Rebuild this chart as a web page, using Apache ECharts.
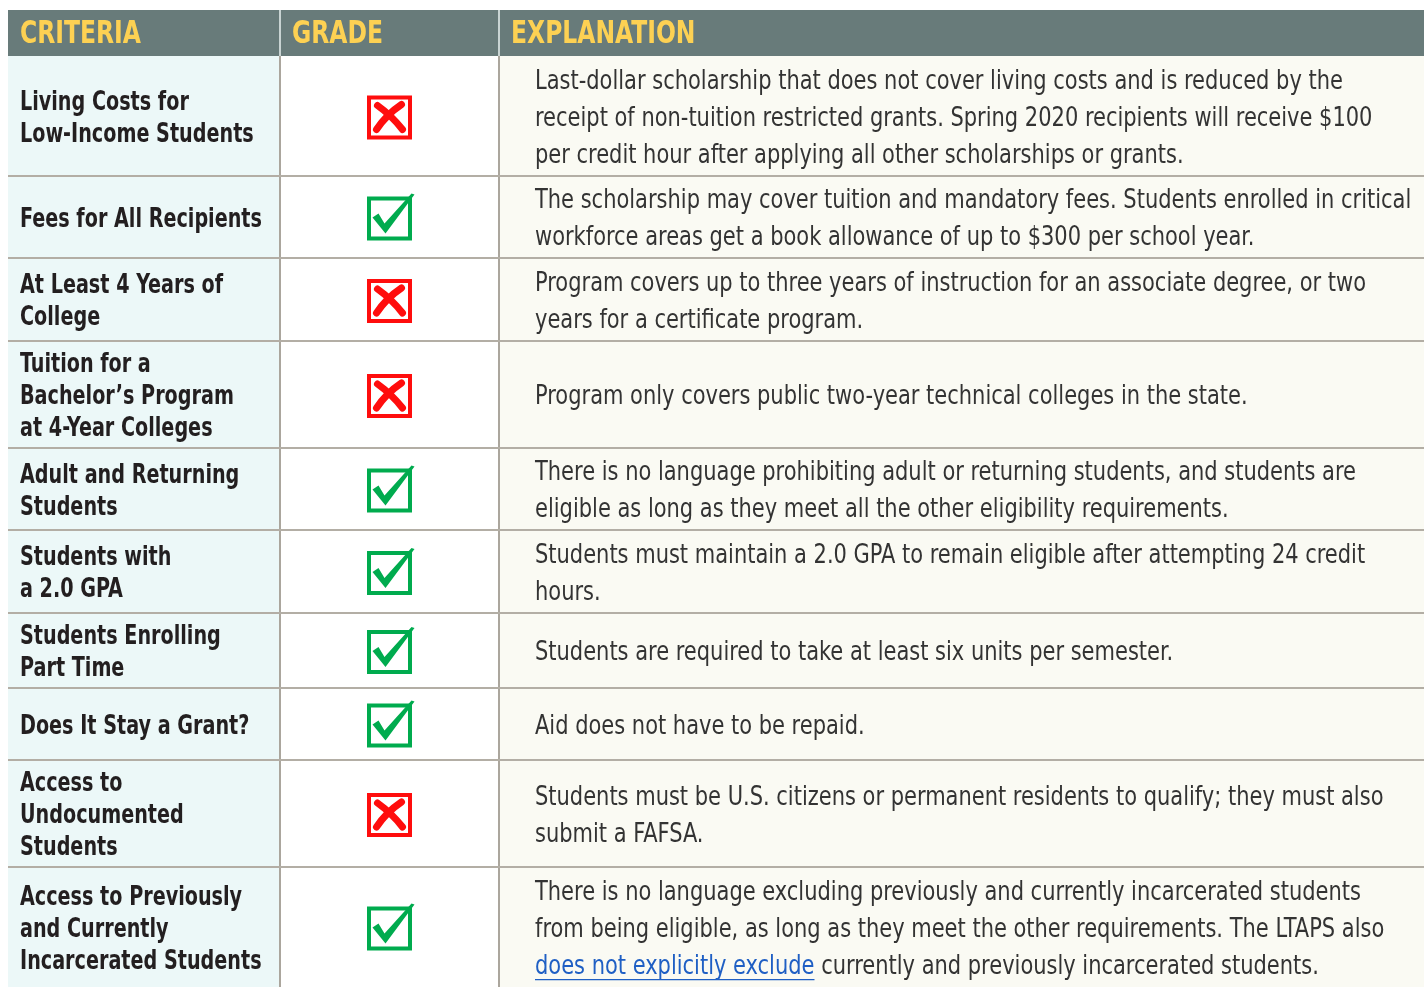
<!DOCTYPE html>
<html><head><meta charset="utf-8">
<script src="https://cdn.jsdelivr.net/npm/echarts@6/dist/echarts.min.js"></script>
<style>html,body{margin:0;padding:0;background:#fff}#c{width:1424px;height:987px}</style>
</head><body><div id="c"></div>
<script>
// ---- data ----
const headers = ['CRITERIA', 'GRADE', 'EXPLANATION'];
const criteria = [
  'Living Costs for\nLow-Income Students',
  'Fees for All Recipients',
  'At Least 4 Years of\nCollege',
  'Tuition for a\nBachelor\u2019s Program\nat 4-Year Colleges',
  'Adult and Returning\nStudents',
  'Students with\na 2.0 GPA',
  'Students Enrolling\nPart Time',
  'Does It Stay a Grant?',
  'Access to\nUndocumented\nStudents',
  'Access to Previously\nand Currently\nIncarcerated Students'
];
const grades = ['fail', 'pass', 'fail', 'fail', 'pass', 'pass', 'pass', 'pass', 'fail', 'pass'];
const explanations = [
  'Last-dollar scholarship that does not cover living costs and is reduced by the\nreceipt of non-tuition restricted grants. Spring 2020 recipients will receive $100\nper credit hour after applying all other scholarships or grants.',
  'The scholarship may cover tuition and mandatory fees. Students enrolled in critical\nworkforce areas get a book allowance of up to $300 per school year.',
  'Program covers up to three years of instruction for an associate degree, or two\nyears for a certificate program.',
  'Program only covers public two-year technical colleges in the state.',
  'There is no language prohibiting adult or returning students, and students are\neligible as long as they meet all the other eligibility requirements.',
  'Students must maintain a 2.0 GPA to remain eligible after attempting 24 credit\nhours.',
  'Students are required to take at least six units per semester.',
  'Aid does not have to be repaid.',
  'Students must be U.S. citizens or permanent residents to qualify; they must also\nsubmit a FAFSA.',
  'There is no language excluding previously and currently incarcerated students\nfrom being eligible, as long as they meet the other requirements. The LTAPS also\n{link|does not explicitly exclude} currently and previously incarcerated students.'
];
const linkText = 'does not explicitly exclude';

// ---- layout ----
const rowHeights = [46, 120, 82, 83, 107, 82, 83, 75, 72, 107, 120];
const colEdges = [0, 272, 491, 1416];
const rowTops = [];
let acc = 0;
rowHeights.forEach(h => { rowTops.push(acc); acc += h; });
const totalH = acc;

const FAM = '"Liberation Sans Narrow", "DejaVu Sans Condensed", sans-serif';
const headFont = 'bold 32px ' + FAM;
const critFont = 'bold 26px ' + FAM;
const explFont = '26px ' + FAM;
const explScale = 0.897;
const critScale = 0.82;
const headScale = 0.815;
const explLH = 37;

const measureCtx = document.createElement('canvas').getContext('2d');
measureCtx.font = explFont;
const linkWidth = measureCtx.measureText(linkText).width * explScale;

function iconChildren(kind, cx, cy) {
  const c = [];
  if (kind === 'fail') {
    const col = '#ff0d0d';
    c.push({ type: 'rect', shape: { x: cx - 20.5, y: cy - 20, width: 41, height: 40 }, style: { fill: 'none', stroke: col, lineWidth: 4 } });
    c.push({ type: 'bezierCurve', shape: { x1: cx - 12, y1: cy - 12, x2: cx + 13, y2: cy + 12, cpx1: cx + 2, cpy1: cy - 2 }, style: { fill: 'none', stroke: col, lineWidth: 7, lineCap: 'round' } });
    c.push({ type: 'bezierCurve', shape: { x1: cx + 12, y1: cy - 13, x2: cx - 13, y2: cy + 12, cpx1: cx - 3, cpy1: cy - 3 }, style: { fill: 'none', stroke: col, lineWidth: 7, lineCap: 'round' } });
  } else {
    const col = '#00ab4e';
    c.push({ type: 'rect', shape: { x: cx - 20.5, y: cy - 20, width: 41, height: 40 }, style: { fill: 'none', stroke: col, lineWidth: 4 } });
    c.push({ type: 'polygon', shape: { points: [
      [cx - 17, cy - 1], [cx - 11, cy - 5], [cx - 5, cy + 5], [cx + 22, cy - 25], [cx + 25, cy - 24], [cx - 4, cy + 15]
    ] }, style: { fill: col } });
  }
  return c;
}

function renderItem(params, api) {
  const i = api.value(0);
  const y0 = rowTops[i], y1 = y0 + rowHeights[i];
  const top = api.coord([0, y0])[1];
  const bot = api.coord([0, y1])[1];
  const xs = colEdges.map(e => api.coord([e, y0])[0]);
  const mid = (top + bot) / 2;
  const h = bot - top;
  const ch = [];
  if (i === 0) {
    ch.push({ type: 'rect', shape: { x: xs[0], y: top, width: xs[3] - xs[0], height: h }, style: { fill: '#687b7a' } });
    [1, 2].forEach(k => ch.push({ type: 'rect', shape: { x: xs[k] - 1, y: top, width: 2, height: h }, style: { fill: '#c9d4d3' } }));
    headers.forEach((t, k) => ch.push({ type: 'text', x: xs[k] + 12, y: mid + 2, scaleX: headScale,
      style: { text: t, font: headFont, fill: '#fdd153', verticalAlign: 'middle', align: 'left' } }));
  } else {
    const r = i - 1;
    ch.push({ type: 'rect', shape: { x: xs[0], y: top, width: xs[1] - xs[0], height: h }, style: { fill: '#ecf8f8' } });
    ch.push({ type: 'rect', shape: { x: xs[1], y: top, width: xs[2] - xs[1], height: h }, style: { fill: '#ffffff' } });
    ch.push({ type: 'rect', shape: { x: xs[2], y: top, width: xs[3] - xs[2], height: h }, style: { fill: '#fafaf3' } });
    [1, 2].forEach(k => ch.push({ type: 'rect', shape: { x: xs[k] - 1, y: top, width: 2, height: h }, style: { fill: '#aba69d' } }));
    if (i > 1) ch.push({ type: 'rect', shape: { x: xs[0], y: top - 1, width: xs[3] - xs[0], height: 2 }, style: { fill: '#b3aea5' } });
    ch.push({ type: 'text', x: xs[0] + 12, y: mid + 3, scaleX: critScale,
      style: { text: criteria[r], font: critFont, fill: '#231f20', lineHeight: 32, verticalAlign: 'middle', align: 'left' } });
    iconChildren(grades[r], (xs[1] + xs[2]) / 2, mid + 1.5).forEach(c => ch.push(c));
    const ex = explanations[r];
    ch.push({ type: 'text', x: xs[2] + 36, y: mid + 3, scaleX: explScale,
      style: { text: ex, font: explFont, fill: '#333333', lineHeight: explLH, verticalAlign: 'middle', align: 'left',
        rich: { link: { fill: '#1f5fc4', font: explFont, lineHeight: explLH } } } });
    if (ex.indexOf('{link|') >= 0) {
      const nLines = ex.split('\n').length;
      const li = ex.split('\n').findIndex(s => s.indexOf('{link|') >= 0);
      const lineCenter = mid + 3 + (li - (nLines - 1) / 2) * explLH;
      const uy = lineCenter + 12;
      ch.push({ type: 'rect', shape: { x: xs[2] + 36, y: uy, width: linkWidth, height: 1.3 }, style: { fill: '#1f5fc4' } });
    }
  }
  return { type: 'group', children: ch };
}

const chart = echarts.init(document.getElementById('c'), null, { renderer: 'canvas' });
chart.setOption({
  animation: false,
  grid: { left: 8, top: 10, right: 0, bottom: 0 },
  xAxis: { type: 'value', min: 0, max: colEdges[3], show: false },
  yAxis: { type: 'value', min: 0, max: totalH, inverse: true, show: false },
  series: [{
    type: 'custom',
    clip: false,
    renderItem: renderItem,
    data: rowHeights.map((_, i) => [i]),
    encode: { x: [], y: 0 }
  }]
});
</script>
</body></html>
